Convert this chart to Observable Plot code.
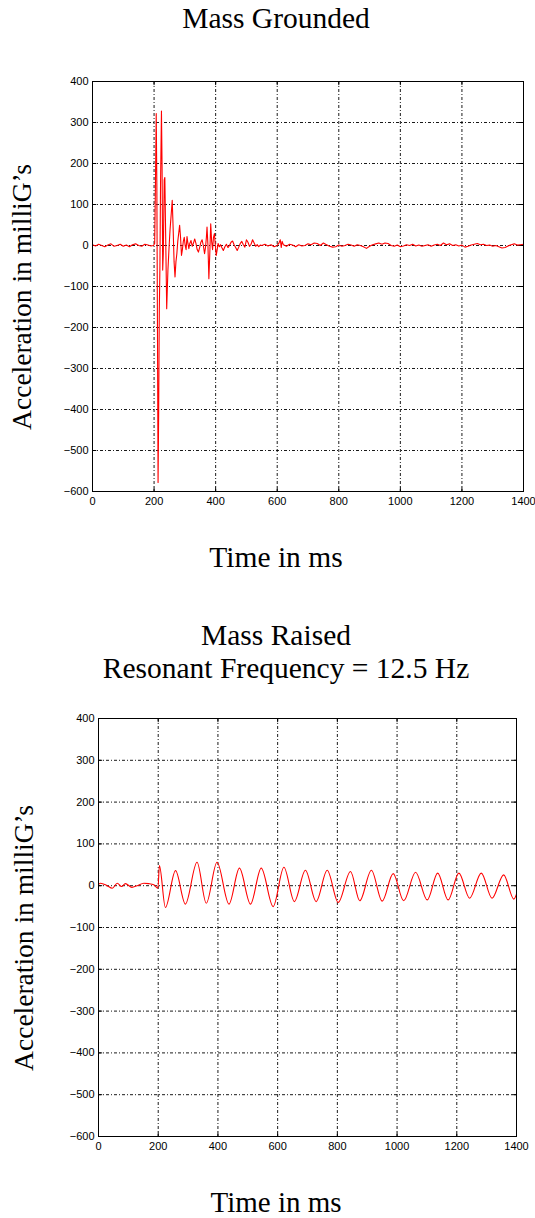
<!DOCTYPE html>
<html><head><meta charset="utf-8">
<script src="https://cdn.jsdelivr.net/npm/d3@7"></script>
<script src="https://cdn.jsdelivr.net/npm/@observablehq/plot@0.6"></script>
<style>
body{margin:0;background:#fff}
#wrap{position:relative;width:535px;height:1218px;overflow:hidden;background:#fff}
.t{position:absolute;font-family:"Liberation Serif","Times New Roman",serif;color:#000;white-space:nowrap;line-height:0.7;transform:translate(-50%,-50%)}
.yl{transform:translate(-50%,-50%) rotate(-90deg)}
.p{position:absolute;left:0}
</style></head><body><div id="wrap"></div>
<script>
const xTicks = [0,200,400,600,800,1000,1200,1400];
const yTicks = [-600,-500,-400,-300,-200,-100,0,100,200,300,400];

// Mass Grounded (ms, milliG)
const topTime = [0,10,20,30,40,50,60,70,80,90,100,110,120,130,140,150,160,170,180,190,198,202,
204,207,209,211,213,215,217,219,221,224,226,228,230,233,235,237,241,245,249,252,256,259,262,265,268,271,274,277,280,283,286,289,292,295,298,301,304,307,310,313,316,320,324,328,332,336,340,344,348,352,356,360,364,367,370,372,375,378,381,384,387,390,393,396,399,402,405,408,412,416,420,425,430,435,440,445,450,455,460,465,470,475,480,485,490,495,500,505,510,515,520,525,530,535,540,545,550,560,570,580,590,600,605,610,613,616,620,
630,640,650,660,670,680,690,700,710,720,730,740,750,760,770,780,790,800,810,820,830,840,850,860,870,880,890,900,910,920,930,940,950,960,970,980,990,1000,1010,1020,1030,1040,1050,1060,1070,1080,1090,1100,1110,1120,1130,1140,1150,1160,1170,1180,1190,1200,1210,1220,1230,1240,1250,1260,1270,1280,1290,1300,1310,1320,1330,1340,1350,1360,1370,1380,1390,1400];
const topAccel = [2,-1,3,0,-3,1,4,-2,0,3,-2,1,-3,2,4,0,-2,3,1,-1,0,5,
120,322,150,-200,-578,-400,-160,-50,150,328,190,-60,-20,160,166,60,-154,-60,0,40,80,110,40,-40,-77,-40,-20,10,30,49,20,-24,-10,10,20,0,-10,22,5,-8,5,12,-2,6,16,5,-10,-16,-5,8,14,0,-20,-5,20,45,0,-81,-20,53,10,-10,20,29,0,-24,-10,5,-3,2,-5,-12,-3,3,-5,0,8,11,2,-5,-12,-4,5,10,2,-4,14,8,-2,3,14,6,-2,2,-3,1,0,3,-1,2,-3,0,5,14,-5,10,2,
-2,3,1,-3,2,-1,0,4,2,6,5,0,6,2,-2,-4,-3,1,-2,0,3,1,-2,2,0,-3,-7,-2,2,4,6,3,6,5,0,-2,1,-3,-1,2,0,3,-1,1,-2,0,2,-2,1,3,0,6,2,4,0,2,-1,1,-4,-2,1,3,5,2,3,0,1,-2,0,-3,-6,-5,-1,2,4,1,2,3];

// Mass Raised (ms, milliG)
const bottomTime = [0,7,29,46,63,77,90,112,129,152,168,185,199,204,224,258,291,330,361,397,437,472,509,545,585,621,656,693,729,766,803,844,875,914,950,987,1022,1062,1101,1136,1171,1207,1243,1282,1318,1357,1391,1400];
const bottomAccel = [3,6,0,-6,6,-2,5,-4,0,6,5,2,-6,48,-52,36,-44,56,-42,56,-44,42,-44,42,-50,44,-38,37,-38,37,-40,34,-36,37,-37,29,-36,32,-34,30,-34,30,-30,30,-30,26,-32,-20];

const fmtY = d => d < 0 ? "\u2212" + Math.abs(d) : String(d);

function panel(time, accel, curve, frame, svgTop, svgH) {
  const data = time.map((t, i) => ({t, v: accel[i]}));
  const dash = "3,2,1,2";
  const p = Plot.plot({
    width: 535, height: svgH,
    marginLeft: frame.left, marginRight: 535 - frame.right,
    marginTop: frame.top - svgTop, marginBottom: svgTop + svgH - frame.bottom,
    style: {fontFamily: "'Liberation Sans', Arial, sans-serif", fontSize: "11px", background: "transparent", color: "#000"},
    x: {domain: [0, 1400], ticks: xTicks, tickSize: 0, tickPadding: 6, label: null, tickFormat: d => String(d)},
    y: {domain: [-600, 400], ticks: yTicks, tickSize: 0, tickPadding: 4, label: null, tickFormat: fmtY},
    marks: [
      Plot.ruleY(yTicks.slice(1, -1), {stroke: "#000", strokeWidth: 0.9, strokeDasharray: dash}),
      Plot.ruleX(xTicks.slice(1, -1), {stroke: "#000", strokeWidth: 0.9, strokeDasharray: dash}),
      Plot.ruleX(xTicks, {y1: -600, y2: -590, stroke: "#000"}),
      Plot.ruleX(xTicks, {y1: 400, y2: 390, stroke: "#000"}),
      Plot.ruleY(yTicks, {x1: 0, x2: 14, stroke: "#000"}),
      Plot.ruleY(yTicks, {x1: 1386, x2: 1400, stroke: "#000"}),
      Plot.line(data, {x: "t", y: "v", stroke: "#ff0000", strokeWidth: 1.1, curve}),
      Plot.frame({stroke: "#000", strokeWidth: 1})
    ]
  });
  p.classList.add("p");
  p.style.top = svgTop + "px";
  return p;
}

const wrap = document.getElementById("wrap");
wrap.appendChild(panel(topTime, topAccel, "linear", {left: 92, right: 523, top: 81, bottom: 491}, 0, 530));
wrap.appendChild(panel(bottomTime, bottomAccel, "monotone-x", {left: 98, right: 516, top: 718, bottom: 1136}, 690, 480));

function label(text, x, y, size, cls) {
  const d = document.createElement("div");
  d.className = "t" + (cls ? " " + cls : "");
  d.textContent = text;
  d.style.left = x + "px"; d.style.top = y + "px"; d.style.fontSize = size + "px";
  wrap.appendChild(d);
}
label("Mass Grounded", 276, 18, 29.5);
label("Time in ms", 276, 557, 29.5);
label("Acceleration in milliG\u2019s", 22, 297, 27.5, "yl");
label("Mass Raised", 276, 635, 29.5);
label("Resonant Frequency = 12.5 Hz", 286, 668, 29.5);
label("Time in ms", 276, 1201.5, 29);
label("Acceleration in milliG\u2019s", 24, 938, 27.5, "yl");
</script></body></html>
